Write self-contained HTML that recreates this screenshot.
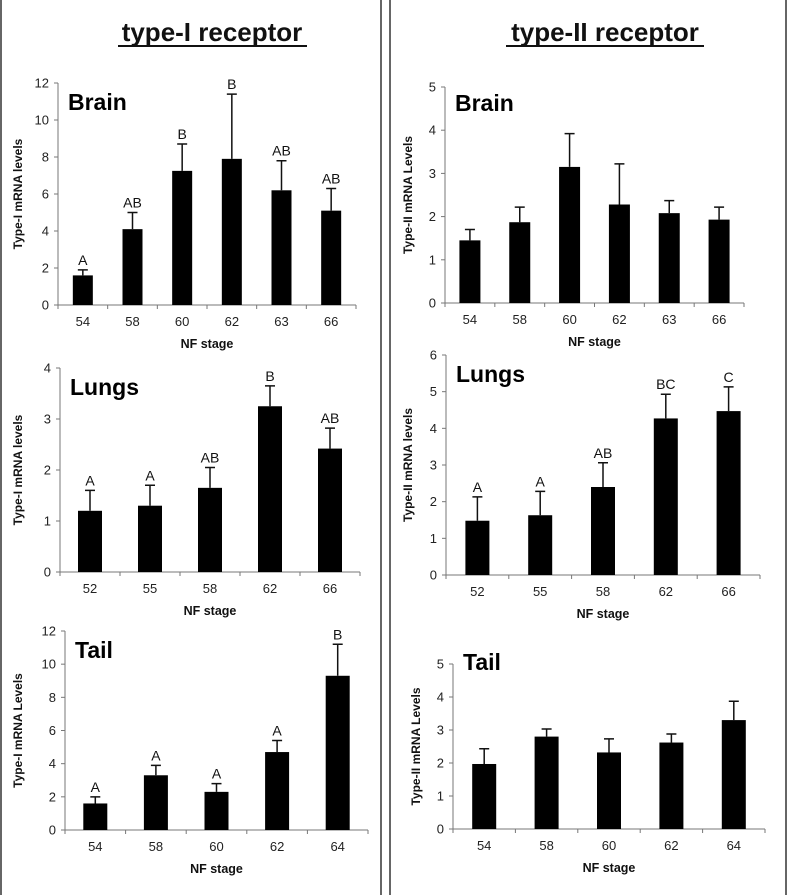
<!DOCTYPE html>
<html><head><meta charset="utf-8"><style>
html,body{margin:0;padding:0;background:#fff}
svg{display:block;font-family:"Liberation Sans",sans-serif}
</style></head><body>
<svg id="fig" width="788" height="895" viewBox="0 0 788 895" xmlns="http://www.w3.org/2000/svg">
<rect x="0" y="0" width="788" height="895" fill="#fff"/>
<rect x="1" y="-2" width="380" height="900" fill="none" stroke="#333" stroke-width="1.5"/>
<rect x="390" y="-2" width="396" height="900" fill="none" stroke="#333" stroke-width="1.5"/>
<text x="212" y="41" text-anchor="middle" font-size="26" font-weight="bold" fill="#111">type-I receptor</text>
<line x1="118" y1="46" x2="307" y2="46" stroke="#111" stroke-width="2"/>
<text x="605" y="41" text-anchor="middle" font-size="26" font-weight="bold" fill="#111">type-II receptor</text>
<line x1="506" y1="46" x2="704" y2="46" stroke="#111" stroke-width="2"/>
</svg>
<script>
// Left brain
const lbCats=["54","58","60","62","63","66"];
const lbVals=[1.6,4.1,7.25,7.9,6.2,5.1];
const lbErr=[0.3,0.9,1.45,3.5,1.6,1.2];
const lbLet=["A","AB","B","B","AB","AB"];
const lbTicks=[0,2,4,6,8,10,12];
// Left lungs
const llCats=["52","55","58","62","66"];
const llVals=[1.2,1.3,1.65,3.25,2.42];
const llErr=[0.4,0.4,0.4,0.4,0.4];
const llLet=["A","A","AB","B","AB"];
const llTicks=[0,1,2,3,4];
// Left tail
const ltCats=["54","58","60","62","64"];
const ltVals=[1.6,3.3,2.3,4.7,9.3];
const ltErr=[0.4,0.6,0.5,0.7,1.9];
const ltLet=["A","A","A","A","B"];
const ltTicks=[0,2,4,6,8,10,12];
// Right brain
const rbCats=["54","58","60","62","63","66"];
const rbVals=[1.45,1.87,3.15,2.28,2.08,1.93];
const rbErr=[0.25,0.35,0.77,0.94,0.29,0.29];
const rbLet=["","","","","",""];
const rbTicks=[0,1,2,3,4,5];
// Right lungs
const rlCats=["52","55","58","62","66"];
const rlVals=[1.48,1.63,2.4,4.27,4.47];
const rlErr=[0.65,0.65,0.66,0.66,0.66];
const rlLet=["A","A","AB","BC","C"];
const rlTicks=[0,1,2,3,4,5,6];
// Right tail
const rtCats=["54","58","60","62","64"];
const rtVals=[1.97,2.8,2.32,2.62,3.3];
const rtErr=[0.46,0.23,0.41,0.26,0.57];
const rtLet=["","","","","",""];
const rtTicks=[0,1,2,3,4,5];

const NS="http://www.w3.org/2000/svg";
const svg=document.getElementById('fig');
function mk(tag,attrs,parent){const e=document.createElementNS(NS,tag);for(const k in attrs)e.setAttribute(k,attrs[k]);(parent||svg).appendChild(e);return e;}

function chart(id,g,cats,vals,errs,lets,ticks,organ,ytitle){
  const grp=mk('g',{});
  
  
  const max=ticks[ticks.length-1];
  const y=v=>g.y0-(v/max)*(g.y0-g.ytop);
  const band=(g.x1-g.x0)/cats.length;
  const x=i=>g.x0+band*(i+0.5);
  const ya=mk('line',{x1:g.x0,y1:g.ytop,x2:g.x0,y2:g.y0,stroke:'#777','stroke-width':1},grp);
  
  
  const xa=mk('line',{x1:g.x0,y1:g.y0,x2:g.x1,y2:g.y0,stroke:'#777','stroke-width':1},grp);
  
  
  ticks.forEach(t=>{
    mk('line',{x1:g.x0-4,y1:y(t),x2:g.x0,y2:y(t),stroke:'#777'},grp);
    const tl=mk('text',{x:g.x0-9,y:y(t)+4.5,'text-anchor':'end','font-size':13,fill:'#222'},grp);
    tl.textContent=t;
    
    
  });
  for(let i=0;i<=cats.length;i++){mk('line',{x1:g.x0+band*i,y1:g.y0,x2:g.x0+band*i,y2:g.y0+4,stroke:'#777'},grp);}
  cats.forEach((c,i)=>{
    const bw=g.bw;
    const b=mk('rect',{x:x(i)-bw/2,y:y(vals[i]),width:bw,height:g.y0-y(vals[i]),fill:'#000'},grp);
    
    
    const top=vals[i]+errs[i];
    const e=mk('path',{d:`M${x(i)},${y(vals[i])}V${y(top)}M${x(i)-5},${y(top)}H${x(i)+5}`,stroke:'#111','stroke-width':1.5,fill:'none'},grp);
    
    
    if(lets[i]){
      const l=mk('text',{x:x(i),y:y(top)-5,'text-anchor':'middle','font-size':14,fill:'#111'},grp);
      l.textContent=lets[i];
      
      
    }
    const xl=mk('text',{x:x(i),y:g.y0+21,'text-anchor':'middle','font-size':13,fill:'#222'},grp);
    xl.textContent=c;
    
    
  });
  const xt=mk('text',{x:(g.x0+g.x1)/2,y:g.y0+43,'text-anchor':'middle','font-size':12.5,'font-weight':'bold',fill:'#111'},grp);
  xt.textContent='NF stage';
  
  
  const cy=(g.ytop+g.y0)/2;
  const yt=mk('text',{x:g.yx,y:cy,'text-anchor':'middle','font-size':12,'font-weight':'bold',fill:'#111',transform:`rotate(-90 ${g.yx} ${cy})`},grp);
  yt.textContent=ytitle;
  
  
  const o=mk('text',{x:g.x0+10,y:g.ytop+27+(g.oy||0),'font-size':23,'font-weight':'bold',fill:'#000'},grp);
  o.textContent=organ;
  
  
}
chart('left-brain',{x0:58,x1:356,y0:305,ytop:83,bw:20,yx:22},lbCats,lbVals,lbErr,lbLet,lbTicks,'Brain','Type-I mRNA levels');
chart('left-lungs',{x0:60,x1:360,y0:572,ytop:368,bw:24,yx:22},llCats,llVals,llErr,llLet,llTicks,'Lungs','Type-I mRNA levels');
chart('left-tail',{x0:65,x1:368,y0:830,ytop:631,bw:24,yx:22},ltCats,ltVals,ltErr,ltLet,ltTicks,'Tail','Type-I mRNA Levels');
chart('right-brain',{x0:445,x1:744,y0:303,ytop:87,bw:21,yx:412,oy:-3},rbCats,rbVals,rbErr,rbLet,rbTicks,'Brain','Type-II mRNA Levels');
chart('right-lungs',{x0:446,x1:760,y0:575,ytop:355,bw:24,yx:412},rlCats,rlVals,rlErr,rlLet,rlTicks,'Lungs','Type-II mRNA levels');
chart('right-tail',{x0:453,x1:765,y0:829,ytop:664,bw:24,yx:420,oy:-21},rtCats,rtVals,rtErr,rtLet,rtTicks,'Tail','Type-II mRNA Levels');
</script>
</body></html>
